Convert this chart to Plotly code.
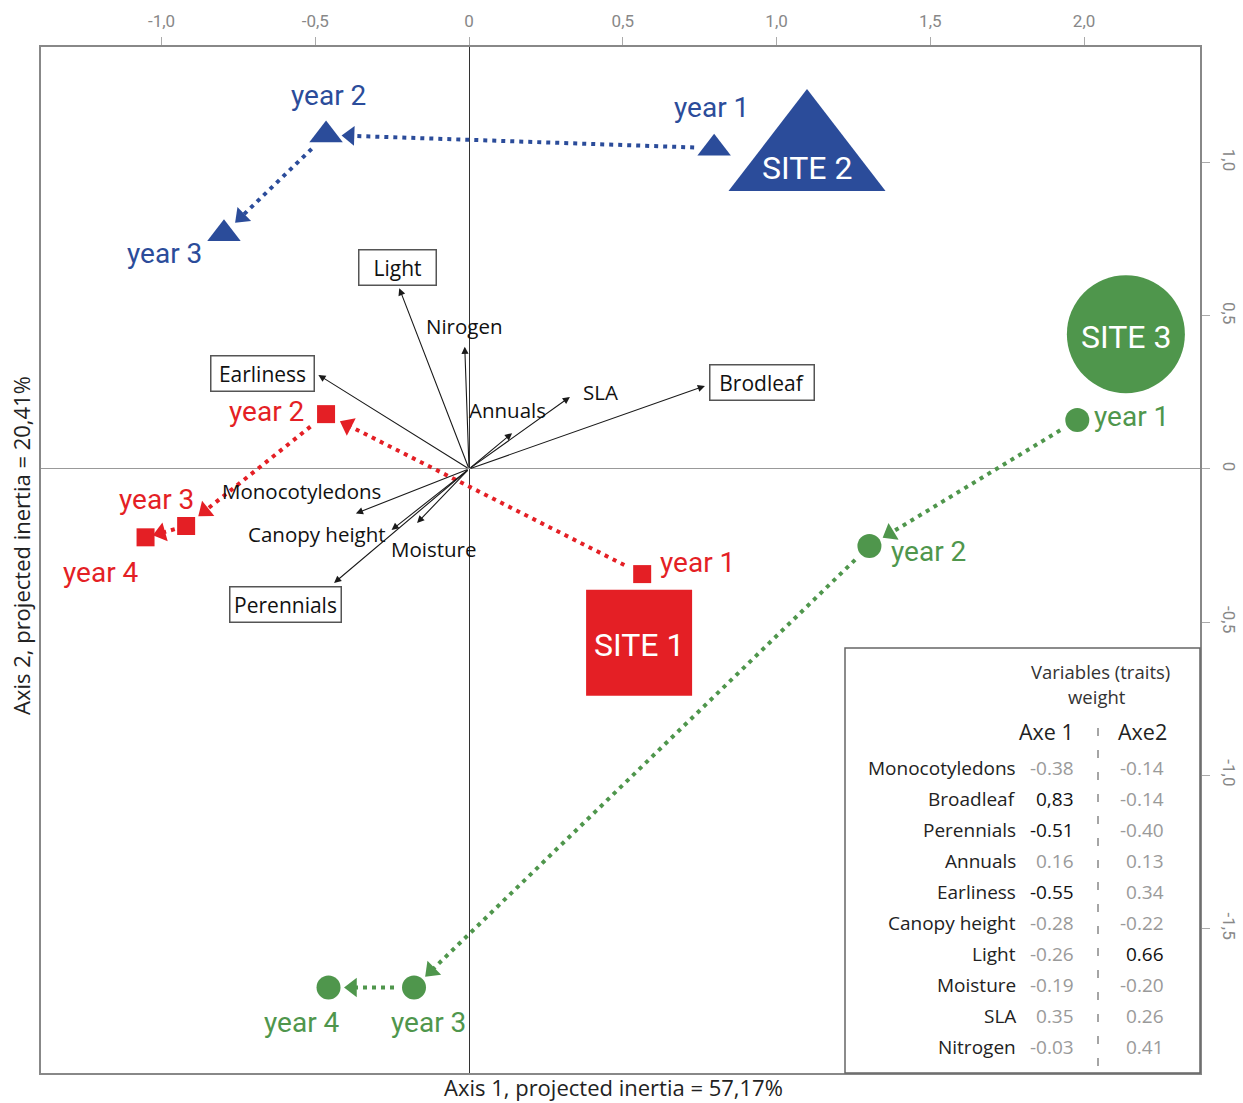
import math
import plotly.graph_objects as go

# ---------------- data ----------------
x_ticks = [-1.0, -0.5, 0, 0.5, 1.0, 1.5, 2.0]
x_tick_labels = ["-1,0", "-0,5", "0", "0,5", "1,0", "1,5", "2,0"]
y_ticks = [1.0, 0.5, 0, -0.5, -1.0, -1.5]
y_tick_labels = ["1,0", "0,5", "0", "-0,5", "-1,0", "-1,5"]

site_names = ["SITE 1", "SITE 2", "SITE 3"]
site_center_x = [0.553, 1.099, 2.136]
site_center_y = [-0.567, 1.018, 0.440]

site1_years = ["year 1", "year 2", "year 3", "year 4"]
site1_x = [0.563, -0.465, -0.920, -1.052]
site1_y = [-0.343, 0.179, -0.186, -0.223]

site2_years = ["year 1", "year 2", "year 3"]
site2_x = [0.797, -0.465, -0.797]
site2_y = [1.047, 1.090, 0.768]

site3_years = ["year 1", "year 2", "year 3", "year 4"]
site3_x = [1.978, 1.302, -0.179, -0.457]
site3_y = [0.160, -0.251, -1.692, -1.692]

var_names = ["Light", "Nirogen", "Earliness", "Annuals", "SLA", "Brodleaf",
             "Monocotyledons", "Canopy height", "Moisture", "Perennials"]
var_x = [-0.227, -0.014, -0.490, 0.140, 0.328, 0.767, -0.368, -0.252, -0.169, -0.439]
var_y = [0.590, 0.399, 0.307, 0.117, 0.235, 0.271, -0.145, -0.199, -0.176, -0.372]

table_names = ["Monocotyledons", "Broadleaf", "Perennials", "Annuals", "Earliness",
               "Canopy height", "Light", "Moisture", "SLA", "Nitrogen"]
table_axe1 = ["-0.38", "0,83", "-0.51", "0.16", "-0.55", "-0.28", "-0.26", "-0.19", "0.35", "-0.03"]
table_axe2 = ["-0.14", "-0.14", "-0.40", "0.13", "0.34", "-0.22", "0.66", "-0.20", "0.26", "0.41"]

# ---------------- styles ----------------
BLUE = "#2b4c9a"
RED = "#e41f25"
GREEN = "#4f964c"
NARROW = "Roboto, Liberation Sans Narrow, sans-serif"
SANS = "Open Sans, Noto Sans, sans-serif"

FIG_W, FIG_H = 1243, 1103
L, T, R, B = 41, 47, 43, 30
W, H = FIG_W - L - R, FIG_H - T - B
XR = [-1.392, 2.377]
YR = [-1.971, 1.377]
KX = W / (XR[1] - XR[0])
KY = H / (YR[1] - YR[0])


def px(xp):
    return (xp - L) / W


def py(yp):
    return (T + H - yp) / H


# label offsets (pixels) for year labels
site1_dx, site1_dy = [55, -60, -30, -45], [12, 3, 26, -35]
site2_dx, site2_dy = [-3, 2, -59], [41, 39, -20]
site3_dx, site3_dy = [54, 59, 14, -27], [3, -6, -35, -35]
site_text_dy = [-2, -11, -3]

var_boxed = [True, False, True, False, False, True, False, False, False, True]
var_box_w = [70, 0, 96, 0, 0, 97, 0, 0, 0, 104]
var_label_dx = [-2, 0, -56, -5, 31, 57, -54, -75, 16, -49]
var_label_dy = [21, 21, 1, 23, 5, 3, 22, -4, -26, -22]

fig = go.Figure()


def add_path(xs, ys, color):
    for i in range(len(xs) - 1):
        dxp = (xs[i + 1] - xs[i]) * KX
        dyp = (ys[i + 1] - ys[i]) * KY
        dist = math.hypot(dxp, dyp)
        ux, uy = dxp / dist, dyp / dist
        g0 = min(20, 0.28 * dist)
        g1 = min(24, 0.38 * dist)
        x0 = xs[i] + ux * g0 / KX
        y0 = ys[i] + uy * g0 / KY
        x1 = xs[i + 1] - ux * g1 / KX
        y1 = ys[i + 1] - uy * g1 / KY
        fig.add_trace(go.Scatter(
            x=[x0, x1], y=[y0, y1], mode="lines+markers",
            line=dict(color=color, width=4, dash="4px,5px"),
            marker=dict(symbol="triangle-up", size=[0, 17], color=color, opacity=1,
                        angleref="previous", line=dict(width=0)),
            hoverinfo="skip", showlegend=False))


add_path(site1_x, site1_y, RED)
add_path(site2_x, site2_y, BLUE)
add_path(site3_x, site3_y, GREEN)

# year markers
fig.add_trace(go.Scatter(x=site1_x, y=site1_y, mode="markers",
                         marker=dict(symbol="square", size=18, color=RED, opacity=1, line=dict(width=0)),
                         showlegend=False, hoverinfo="skip"))
fig.add_trace(go.Scatter(x=site2_x, y=site2_y, mode="markers",
                         marker=dict(symbol="triangle-up", size=29, color=BLUE, opacity=1, line=dict(width=0)),
                         showlegend=False, hoverinfo="skip"))
fig.add_trace(go.Scatter(x=site3_x, y=site3_y, mode="markers",
                         marker=dict(symbol="circle", size=24, color=GREEN, opacity=1, line=dict(width=0)),
                         showlegend=False, hoverinfo="skip"))

# site centroids
fig.add_trace(go.Scatter(x=site_center_x, y=site_center_y, mode="markers",
                         marker=dict(symbol=["square", "triangle-up", "circle"],
                                     size=[106, 136, 118], color=[RED, BLUE, GREEN],
                                     opacity=1, line=dict(width=0)),
                         showlegend=False, hoverinfo="skip"))

ann = []
for names, xs, ys, dxs, dys, col in [
        (site1_years, site1_x, site1_y, site1_dx, site1_dy, RED),
        (site2_years, site2_x, site2_y, site2_dx, site2_dy, BLUE),
        (site3_years, site3_x, site3_y, site3_dx, site3_dy, GREEN)]:
    for n, x, y, dx, dy in zip(names, xs, ys, dxs, dys):
        ann.append(dict(x=x, y=y, xref="x", yref="y", text=n, showarrow=False,
                        xanchor="center", yanchor="middle",
                        xshift=dx, yshift=dy, font=dict(family=NARROW, size=28, color=col)))

for n, x, y, dy in zip(site_names, site_center_x, site_center_y, site_text_dy):
    ann.append(dict(x=x, y=y, xref="x", yref="y", text=n, showarrow=False,
                    xanchor="center", yanchor="middle",
                    yshift=dy, font=dict(family=NARROW, size=32, color="white")))

# variable arrows
for x, y in zip(var_x, var_y):
    ann.append(dict(x=x, y=y, ax=0, ay=0, xref="x", yref="y", axref="x", ayref="y",
                    text="", showarrow=True, arrowhead=2, arrowsize=1.3, arrowwidth=1.1,
                    arrowcolor="#1a1a1a", standoff=0))

for n, x, y, boxed, bw, dx, dy in zip(var_names, var_x, var_y, var_boxed, var_box_w,
                                      var_label_dx, var_label_dy):
    a = dict(x=x, y=y, xref="x", yref="y", text=n, showarrow=False, xshift=dx, yshift=dy,
             xanchor="center", yanchor="middle",
             font=dict(family=SANS, size=21 if boxed else 20.5, color="#111"))
    if boxed:
        a.update(bordercolor="#555", borderwidth=1.5, borderpad=3, bgcolor="white",
                 width=bw, height=28)
    ann.append(a)


def pann(xp, yp, text, size, color, xanchor="center", **kw):
    d = dict(x=px(xp), y=py(yp), xref="paper", yref="paper", showarrow=False,
             xanchor=xanchor, yanchor="middle", text=text,
             font=dict(family=SANS, size=size, color=color))
    d.update(kw)
    return d


# axis titles
ann.append(pann(613, 1087, "Axis 1, projected inertia = 57,17%", 22, "#222"))
ann.append(pann(21, 546, "Axis 2, projected inertia = 20,41%", 22, "#222", textangle=-90))

# table
ann.append(pann(1100, 671, "Variables (traits)", 18.5, "#333"))
ann.append(pann(1097, 696, "weight", 18.5, "#333"))
ann.append(pann(1076, 731, "Axe 1", 21.5, "#222", xanchor="right"))
ann.append(pann(1116, 731, "Axe2", 21.5, "#222", xanchor="left"))
row0, dy_row = 768, 31.0
for i, (n, a1, a2) in enumerate(zip(table_names, table_axe1, table_axe2)):
    yy = row0 + i * dy_row
    ann.append(pann(1018, yy, n, 19, "#222", xanchor="right"))
    for v, xr_ in [(a1, 1076), (a2, 1166)]:
        strong = abs(float(v.replace(",", "."))) >= 0.5
        ann.append(pann(xr_, yy, v, 19, "#111" if strong else "#9a9a9a", xanchor="right"))

shapes = [
    dict(type="rect", xref="paper", yref="paper", x0=px(845), x1=px(1200), y0=py(1073), y1=py(648),
         line=dict(color="#666", width=1.5), fillcolor="white", layer="above"),
    dict(type="line", xref="paper", yref="paper", x0=px(1098), x1=px(1098), y0=py(1066), y1=py(722),
         line=dict(color="#888", width=1.5, dash="8px,14px"), layer="above"),
]

fig.update_layout(
    width=FIG_W, height=FIG_H,
    margin=dict(l=L, r=R, t=T, b=B),
    paper_bgcolor="white", plot_bgcolor="white",
    showlegend=False,
    annotations=ann, shapes=shapes,
    xaxis=dict(range=XR, side="top", tickvals=x_ticks, ticktext=x_tick_labels,
               ticks="outside", ticklen=8, tickcolor="#aaa", tickwidth=1.2,
               ticklabelstandoff=3, automargin=False,
               tickfont=dict(family=NARROW, size=17, color="#888"),
               showgrid=False, zeroline=True, zerolinecolor="#333", zerolinewidth=1,
               showline=True, mirror=True, linecolor="#888", linewidth=1.5),
    yaxis=dict(range=YR, side="right", tickvals=y_ticks, ticktext=y_tick_labels,
               ticks="outside", ticklen=8, tickcolor="#aaa", tickwidth=1.2, tickangle=90,
               ticklabelstandoff=6, automargin=False,
               tickfont=dict(family=NARROW, size=17, color="#888"),
               showgrid=False, zeroline=True, zerolinecolor="#999", zerolinewidth=1.2,
               showline=True, mirror=True, linecolor="#888", linewidth=1.5),
)

fig.write_html("out.html", config={"displayModeBar": False},
               post_script="document.body.style.margin='0';")
